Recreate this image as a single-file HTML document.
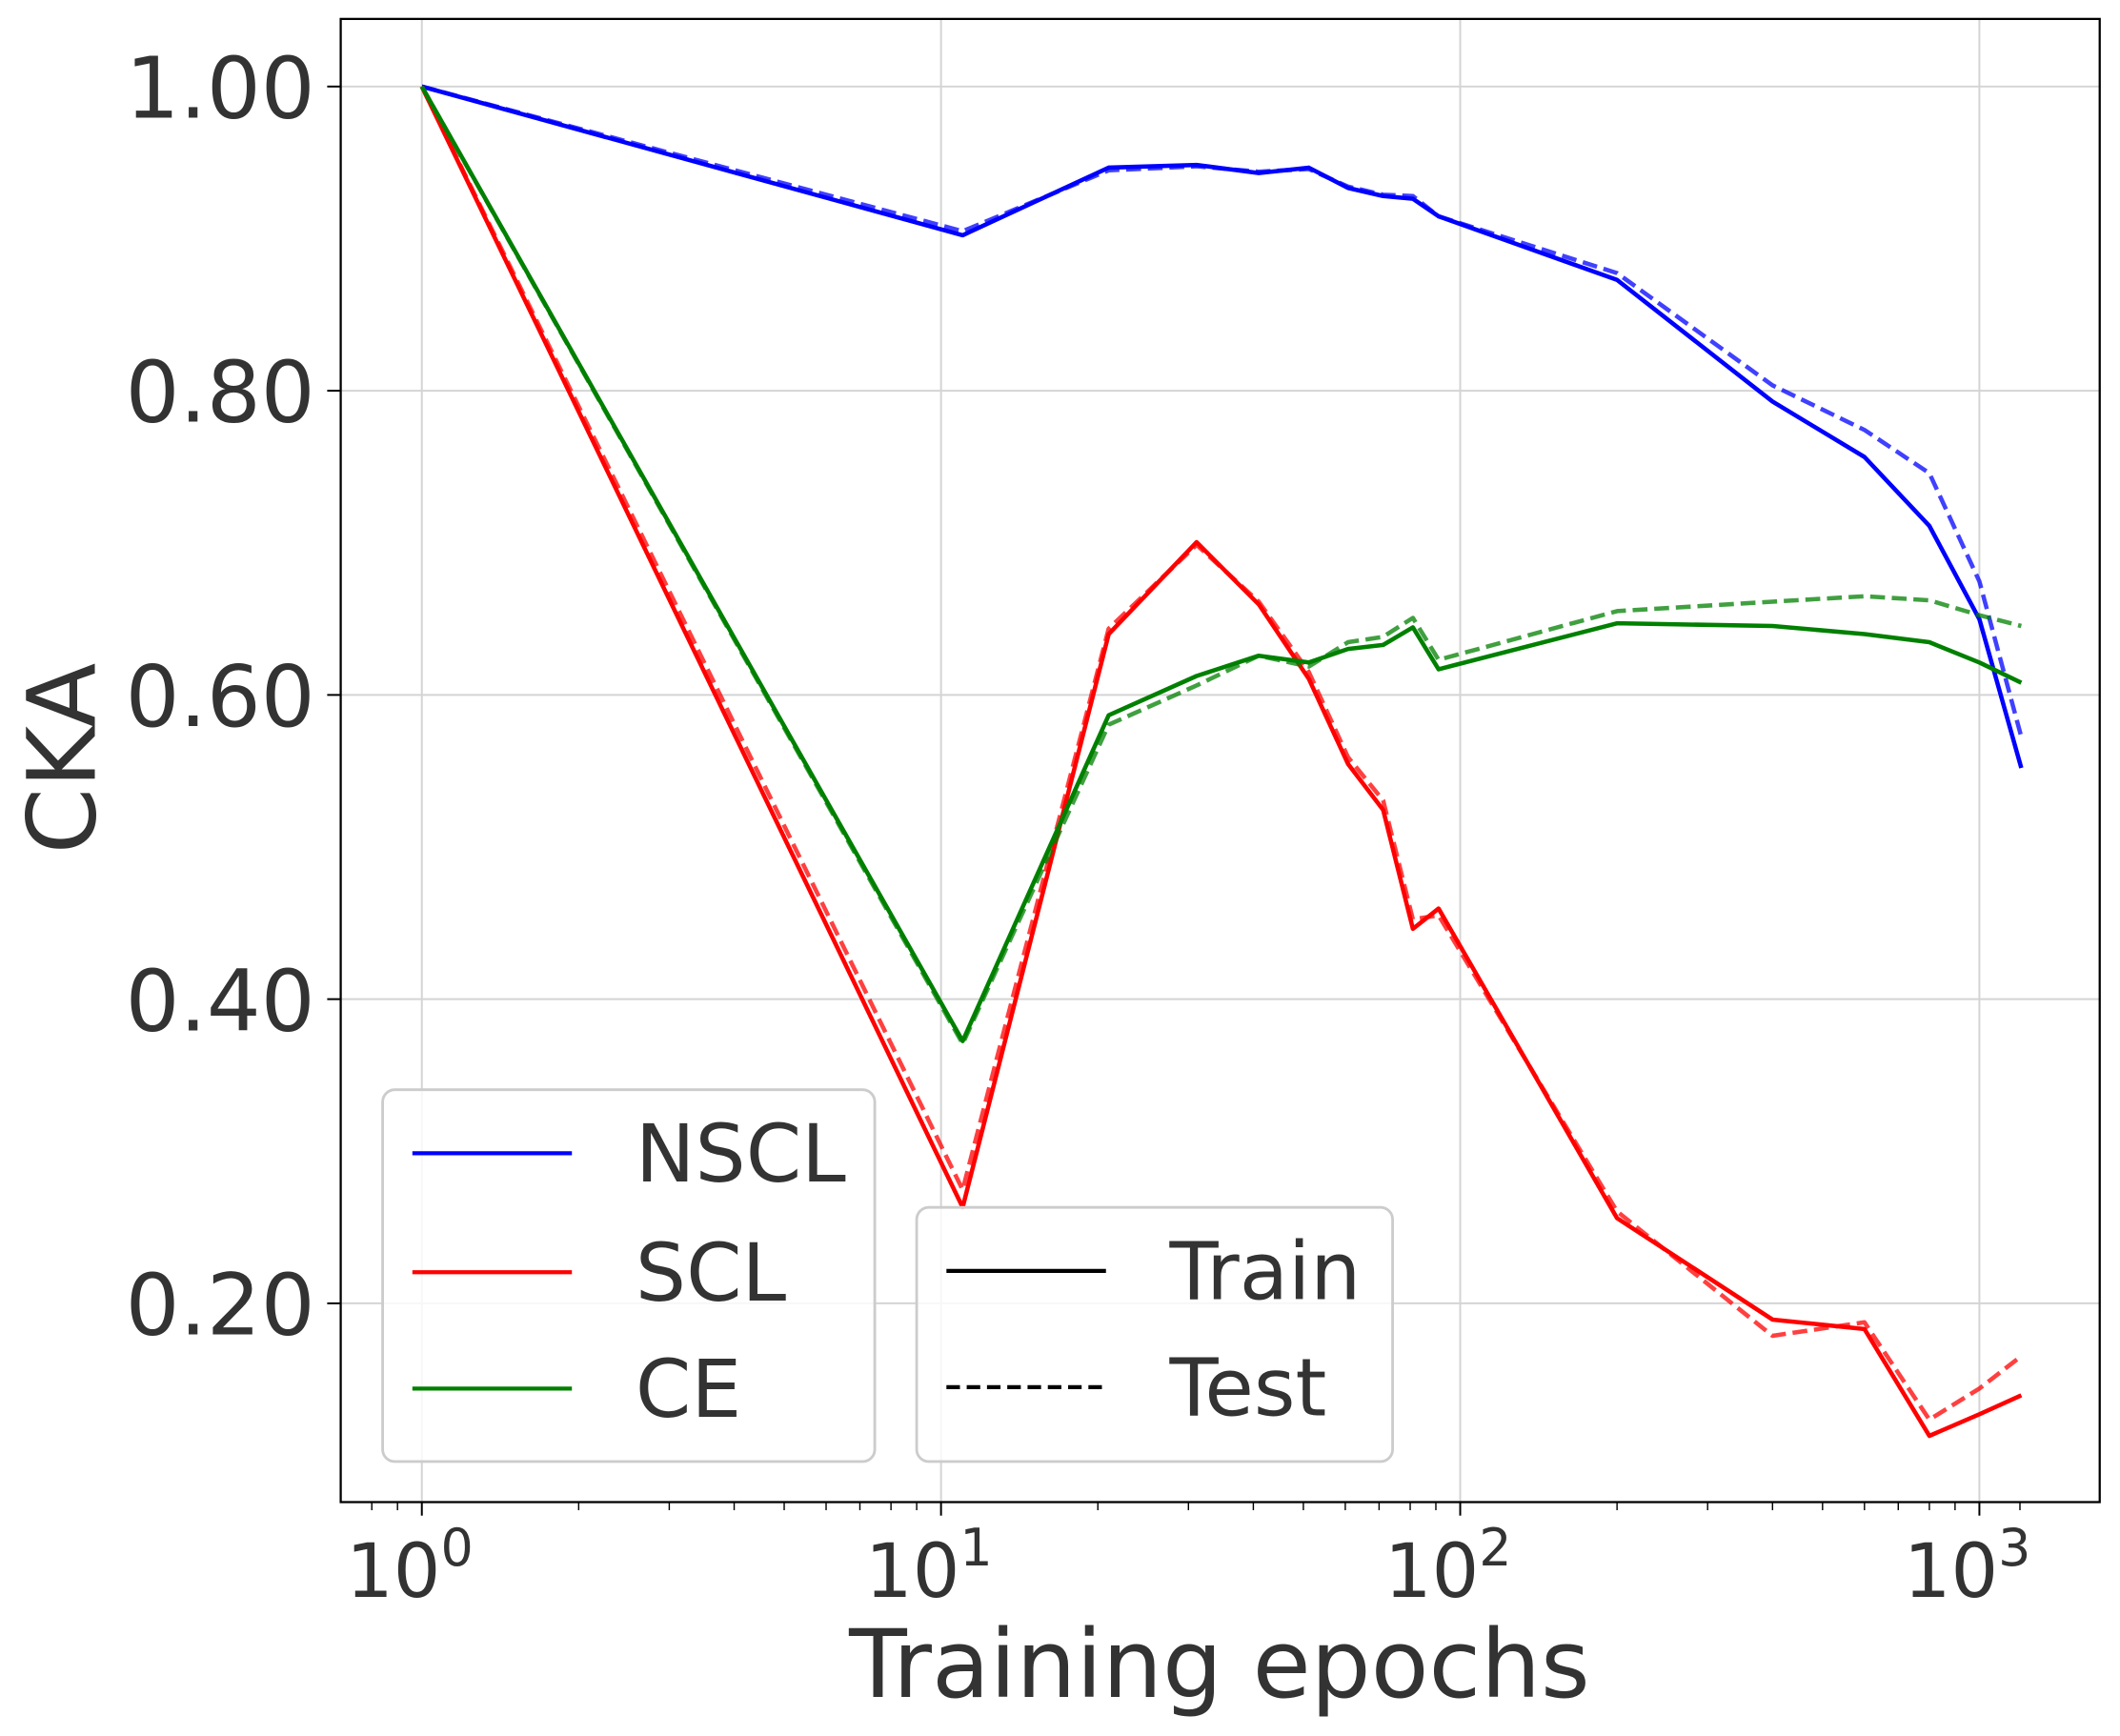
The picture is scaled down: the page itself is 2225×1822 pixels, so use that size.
<!DOCTYPE html>
<html><head><meta charset="utf-8"><style>html,body{margin:0;padding:0;background:#fff}svg{display:block}</style></head>
<body>
<svg xmlns="http://www.w3.org/2000/svg" width="2225" height="1822" viewBox="0 0 1568 1284" font-family="DejaVu Sans, Liberation Sans, sans-serif">
<rect width="1568" height="1284" fill="#fff"/>
<g stroke="#d4d4d4" stroke-width="1.4">
<line x1="312" y1="14" x2="312" y2="1111"/><line x1="696" y1="14" x2="696" y2="1111"/><line x1="1080" y1="14" x2="1080" y2="1111"/><line x1="1464" y1="14" x2="1464" y2="1111"/>
<line x1="252" y1="64" x2="1553" y2="64"/><line x1="252" y1="289" x2="1553" y2="289"/><line x1="252" y1="514" x2="1553" y2="514"/><line x1="252" y1="739" x2="1553" y2="739"/><line x1="252" y1="964" x2="1553" y2="964"/>
</g>
<g fill="none" stroke-width="3.2" stroke-linejoin="round">
<polyline stroke="#0000ff" points="312,64 712,174 820,124 885,122 931,128 968,124 997,139 1023,145 1045,147 1064,160 1196,207 1311,297 1379,338 1427,389 1464,458 1495,568"/>
<polyline stroke="#0000ff" stroke-opacity="0.75" stroke-dasharray="11,5" points="312,64 712,171 820,126 885,123 931,127 968,125 997,138 1023,144 1045,145 1064,160 1196,202 1311,285 1379,318 1427,350 1464,430 1495,545"/>
<polyline stroke="#ff0000" points="312,64 712,893 820,469 885,401 931,447 968,502 997,565 1023,599 1045,687 1064,672 1196,901 1311,976 1379,983 1427,1062 1464,1046 1495,1032"/>
<polyline stroke="#ff0000" stroke-opacity="0.75" stroke-dasharray="11,5" points="312,64 712,880 820,465 885,403 931,445 968,497 997,560 1023,592 1045,680 1064,677 1196,896 1311,988 1379,978 1427,1050 1464,1027 1495,1003"/>
<polyline stroke="#008000" points="312,64 712,770 820,529 885,500 931,485 968,490 997,480 1023,477 1045,464 1064,495 1196,461 1311,463 1379,469 1427,475 1464,490 1495,505"/>
<polyline stroke="#008000" stroke-opacity="0.75" stroke-dasharray="11,5" points="312,64 712,772 820,536 885,507 931,485 968,493 997,475 1023,471 1045,457 1064,488 1196,452 1311,445 1379,441 1427,444 1464,455 1495,463"/>
</g>
<rect x="252" y="14" width="1301" height="1097" fill="none" stroke="#000" stroke-width="1.6"/>
<g stroke="#000" stroke-width="1.4">
<line x1="312" y1="1111" x2="312" y2="1121"/><line x1="696" y1="1111" x2="696" y2="1121"/><line x1="1080" y1="1111" x2="1080" y2="1121"/><line x1="1464" y1="1111" x2="1464" y2="1121"/>
<line x1="242" y1="64" x2="252" y2="64"/><line x1="242" y1="289" x2="252" y2="289"/><line x1="242" y1="514" x2="252" y2="514"/><line x1="242" y1="739" x2="252" y2="739"/><line x1="242" y1="964" x2="252" y2="964"/>
<g stroke-width="1">
<line x1="275" y1="1111" x2="275" y2="1117"/><line x1="294" y1="1111" x2="294" y2="1117"/>
<line x1="428" y1="1111" x2="428" y2="1117"/><line x1="495" y1="1111" x2="495" y2="1117"/><line x1="543" y1="1111" x2="543" y2="1117"/><line x1="580" y1="1111" x2="580" y2="1117"/><line x1="611" y1="1111" x2="611" y2="1117"/><line x1="636" y1="1111" x2="636" y2="1117"/><line x1="659" y1="1111" x2="659" y2="1117"/><line x1="678" y1="1111" x2="678" y2="1117"/>
<line x1="812" y1="1111" x2="812" y2="1117"/><line x1="879" y1="1111" x2="879" y2="1117"/><line x1="927" y1="1111" x2="927" y2="1117"/><line x1="964" y1="1111" x2="964" y2="1117"/><line x1="995" y1="1111" x2="995" y2="1117"/><line x1="1020" y1="1111" x2="1020" y2="1117"/><line x1="1043" y1="1111" x2="1043" y2="1117"/><line x1="1062" y1="1111" x2="1062" y2="1117"/>
<line x1="1196" y1="1111" x2="1196" y2="1117"/><line x1="1263" y1="1111" x2="1263" y2="1117"/><line x1="1311" y1="1111" x2="1311" y2="1117"/><line x1="1348" y1="1111" x2="1348" y2="1117"/><line x1="1379" y1="1111" x2="1379" y2="1117"/><line x1="1404" y1="1111" x2="1404" y2="1117"/><line x1="1427" y1="1111" x2="1427" y2="1117"/><line x1="1446" y1="1111" x2="1446" y2="1117"/><line x1="1494" y1="1111" x2="1494" y2="1117"/>
</g></g>
<g fill="#333" font-size="63" text-anchor="end">
<text x="233" y="87">1.00</text><text x="233" y="312">0.80</text><text x="233" y="537">0.60</text><text x="233" y="762">0.40</text><text x="233" y="987">0.20</text>
</g>
<g fill="#333" font-size="55" text-anchor="middle">
<text x="303" y="1181">10<tspan font-size="38" dy="-23">0</tspan></text>
<text x="687" y="1181">10<tspan font-size="38" dy="-23">1</tspan></text>
<text x="1071" y="1181">10<tspan font-size="38" dy="-23">2</tspan></text>
<text x="1455" y="1181">10<tspan font-size="38" dy="-23">3</tspan></text>
<text x="902" y="1255" font-size="70">Training epochs</text>
<text transform="translate(70,561) rotate(-90)" font-size="70">CKA</text>
</g>
<rect x="283" y="806" width="364" height="275" rx="9" fill="#fff" fill-opacity="0.8" stroke="#ccc" stroke-width="2"/>
<rect x="678" y="893" width="352" height="188" rx="9" fill="#fff" fill-opacity="0.8" stroke="#ccc" stroke-width="2"/>
<g stroke-width="3">
<line x1="305" y1="853" x2="423" y2="853" stroke="#0000ff"/>
<line x1="305" y1="941" x2="423" y2="941" stroke="#ff0000"/>
<line x1="305" y1="1027" x2="423" y2="1027" stroke="#008000"/>
<line x1="700" y1="940" x2="818" y2="940" stroke="#000"/>
<line x1="700" y1="1026" x2="818" y2="1026" stroke="#000" stroke-dasharray="10,5"/>
</g>
<g fill="#333" font-size="59">
<text x="470" y="874">NSCL</text><text x="470" y="962">SCL</text><text x="470" y="1048">CE</text>
<text x="865" y="961">Train</text><text x="865" y="1047">Test</text>
</g>
</svg>
</body></html>
